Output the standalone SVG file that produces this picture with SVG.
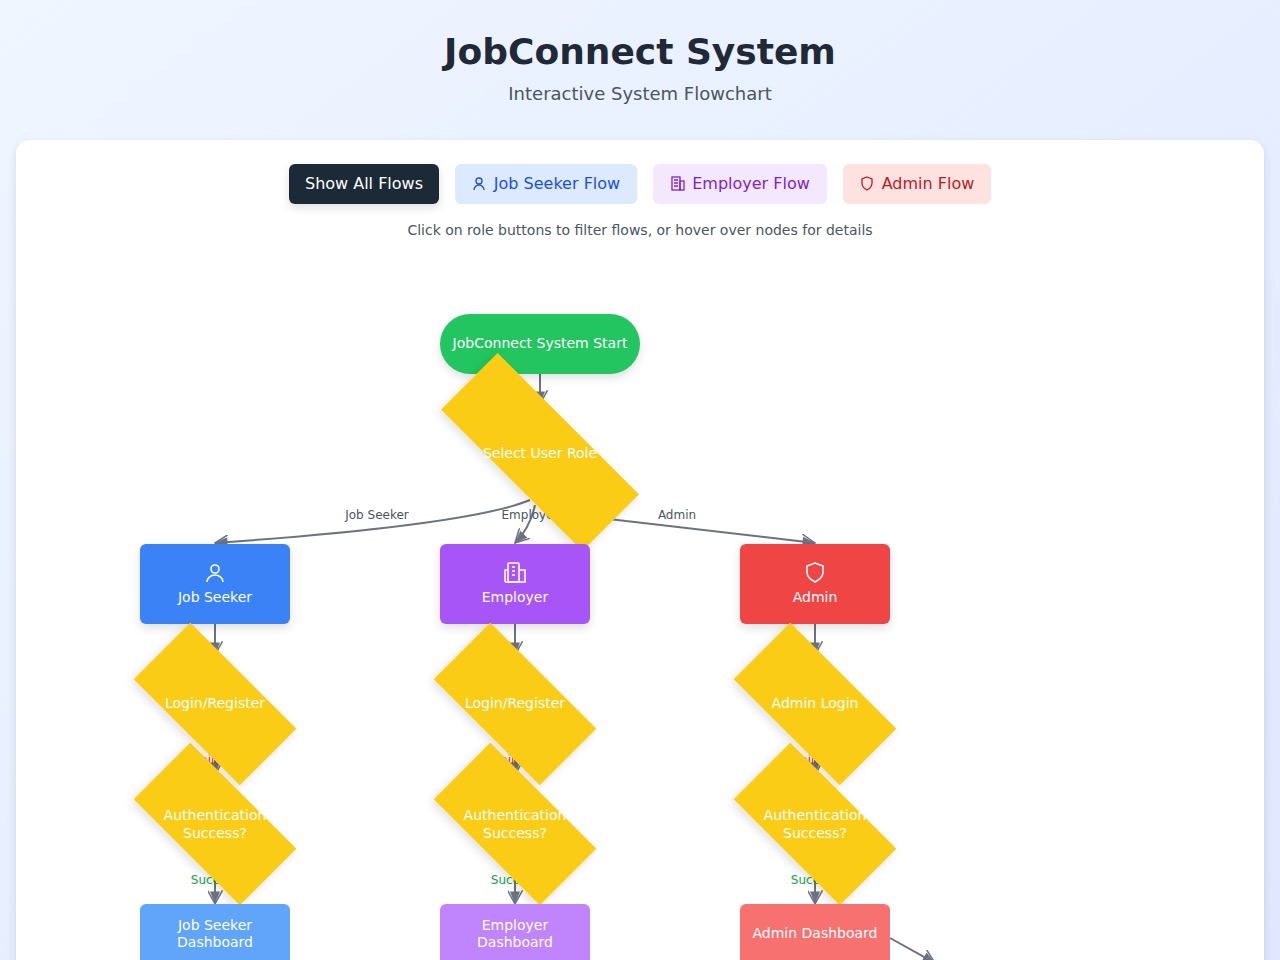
<svg xmlns="http://www.w3.org/2000/svg" width="1280" height="960" viewBox="0 0 1280 960">
<defs>
<linearGradient id="bg" x1="0" y1="0" x2="1" y2="1"><stop offset="0" stop-color="#eff6ff"/><stop offset="1" stop-color="#e0e7ff"/></linearGradient>
<filter id="sh" x="-30%" y="-30%" width="160%" height="160%"><feDropShadow dx="0" dy="4" stdDeviation="5" flood-color="#000" flood-opacity="0.12"/></filter>
<marker id="ar" viewBox="0 0 12 12" refX="11" refY="6" markerWidth="15" markerHeight="15" markerUnits="userSpaceOnUse" orient="auto">
<path d="M1,2 L11,6 L1,10 z" fill="#6b7280"/><path d="M0,0 L11,6 L0,12" fill="none" stroke="#6b7280" stroke-width="1.2"/></marker>
<style>
text{font-family:"DejaVu Sans",Verdana,sans-serif}
.n{fill:#fff;font-size:14px;text-anchor:middle}
.c{fill:none;stroke:#6b7280;stroke-width:2;marker-end:url(#ar)}
.el{fill:#4b5563;font-size:12px;text-anchor:middle}
.dia{fill:#facc15;filter:url(#sh)}
.btn{font-size:16px;text-anchor:middle}
</style>
</defs>
<rect width="1280" height="960" fill="url(#bg)"/>
<text x="640" y="64" text-anchor="middle" font-size="36" font-weight="bold" fill="#1f2937">JobConnect System</text>
<text x="640" y="100" text-anchor="middle" font-size="18" fill="#4b5563">Interactive System Flowchart</text>
<rect x="16" y="140" width="1248" height="840" rx="14" fill="#fff" filter="url(#sh)"/>
<g id="buttons">
<rect x="289" y="164" width="150" height="40" rx="6" fill="#1f2937" filter="url(#sh)"/><text class="btn" x="364" y="189" fill="#fff">Show All Flows</text>
<rect x="455" y="164" width="182" height="40" rx="6" fill="#dbeafe"/><text class="btn" x="557" y="189" fill="#1d4ed8">Job Seeker Flow</text>
<g fill="none" stroke="#1d4ed8" stroke-width="1.3"><circle cx="479" cy="181" r="3"/><path d="M474,190 a5,5 0 0 1 10,0"/></g>
<rect x="653" y="164" width="174" height="40" rx="6" fill="#f3e8ff"/><text class="btn" x="751" y="189" fill="#7e22ce">Employer Flow</text>
<g fill="none" stroke="#7e22ce" stroke-width="1.3"><rect x="672" y="177" width="8" height="13"/><rect x="680" y="181" width="4" height="9"/><path d="M674,180h4M674,183h4M674,186h4"/></g>
<rect x="843" y="164" width="148" height="40" rx="6" fill="#fee2e2"/><text class="btn" x="928" y="189" fill="#b91c1c">Admin Flow</text>
<path d="M867,177 l5,2 v4 c0,4 -3,6 -5,7 c-2,-1 -5,-3 -5,-7 v-4 z" fill="none" stroke="#b91c1c" stroke-width="1.3"/>
</g>
<text x="640" y="235" text-anchor="middle" font-size="14" fill="#4b5563">Click on role buttons to filter flows, or hover over nodes for details</text>
<g id="connectors">
<path class="c" d="M540,374 V404"/>
<path class="c" d="M530,500 Q470,525 215,543"/>
<path class="c" d="M535,505 Q530,528 515,543"/>
<path class="c" d="M600,518 Q700,530 815,543"/>
<path class="c" d="M215,624 V655"/><path class="c" d="M515,624 V655"/><path class="c" d="M815,624 V655"/>
<path class="c" d="M215,760 V775"/><path class="c" d="M515,760 V775"/><path class="c" d="M815,760 V775"/>
<path class="c" d="M215,880 V904"/><path class="c" d="M515,880 V904"/><path class="c" d="M815,880 V904"/>
<path class="c" d="M890,938 L935,963"/>
<text class="el" x="377" y="519">Job Seeker</text><text class="el" x="530" y="519">Employer</text><text class="el" x="677" y="519">Admin</text>
<g fill="#dc2626" font-size="12" text-anchor="middle"><text x="212" y="764">Failed</text><text x="512" y="764">Failed</text><text x="812" y="764">Failed</text></g>
<g fill="#16a34a" font-size="12" text-anchor="middle"><text x="215" y="884">Success</text><text x="515" y="884">Success</text><text x="815" y="884">Success</text></g>
</g>
<g id="start"><rect x="440" y="314" width="200" height="60" rx="30" fill="#22c55e" filter="url(#sh)"/><text class="n" x="540" y="348">JobConnect System Start</text></g>
<g id="role"><rect class="dia" x="440" y="412" width="200" height="80" transform="rotate(45 540 452)"/><text class="n" x="540" y="458">Select User Role</text></g>
<g id="js"><rect x="140" y="544" width="150" height="80" rx="6" fill="#3b82f6" filter="url(#sh)"/>
<g fill="none" stroke="#fff" stroke-width="1.6"><circle cx="215" cy="569" r="4"/><path d="M207,582 a8,7 0 0 1 16,0"/></g><text class="n" x="215" y="602">Job Seeker</text></g>
<g id="emp"><rect x="440" y="544" width="150" height="80" rx="6" fill="#a855f7" filter="url(#sh)"/>
<g fill="none" stroke="#fff" stroke-width="1.6"><rect x="508" y="563" width="11" height="19" rx="1"/><path d="M505,582v-12h3M519,570h6v12h-20"/><path d="M512,567h3M512,571h3M512,575h3"/></g><text class="n" x="515" y="602">Employer</text></g>
<g id="adm"><rect x="740" y="544" width="150" height="80" rx="6" fill="#ef4444" filter="url(#sh)"/>
<path d="M815,563 l8,3 v6 c0,5 -4,8 -8,10 c-4,-2 -8,-5 -8,-10 v-6 z" fill="none" stroke="#fff" stroke-width="1.6"/><text class="n" x="815" y="602">Admin</text></g>
<g id="login1"><rect class="dia" x="140" y="664" width="150" height="80" transform="rotate(45 215 704)"/><text class="n" x="215" y="708">Login/Register</text></g>
<g id="login2"><rect class="dia" x="440" y="664" width="150" height="80" transform="rotate(45 515 704)"/><text class="n" x="515" y="708">Login/Register</text></g>
<g id="login3"><rect class="dia" x="740" y="664" width="150" height="80" transform="rotate(45 815 704)"/><text class="n" x="815" y="708">Admin Login</text></g>
<g id="auth1"><rect class="dia" x="140" y="784" width="150" height="80" transform="rotate(45 215 824)"/><text class="n" x="215" y="820">Authentication</text><text class="n" x="215" y="838">Success?</text></g>
<g id="auth2"><rect class="dia" x="440" y="784" width="150" height="80" transform="rotate(45 515 824)"/><text class="n" x="515" y="820">Authentication</text><text class="n" x="515" y="838">Success?</text></g>
<g id="auth3"><rect class="dia" x="740" y="784" width="150" height="80" transform="rotate(45 815 824)"/><text class="n" x="815" y="820">Authentication</text><text class="n" x="815" y="838">Success?</text></g>
<g id="jsd"><rect x="140" y="904" width="150" height="80" rx="6" fill="#60a5fa"/><text class="n" x="215" y="930">Job Seeker</text><text class="n" x="215" y="947">Dashboard</text></g>
<g id="empd"><rect x="440" y="904" width="150" height="80" rx="6" fill="#c084fc"/><text class="n" x="515" y="930">Employer</text><text class="n" x="515" y="947">Dashboard</text></g>
<g id="admd"><rect x="740" y="904" width="150" height="80" rx="6" fill="#f87171"/><text class="n" x="815" y="938">Admin Dashboard</text></g>
</svg>
